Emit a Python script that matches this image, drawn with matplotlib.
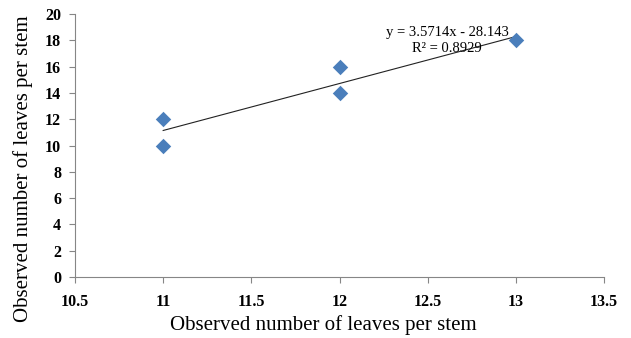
import matplotlib
matplotlib.use("Agg")
import matplotlib.pyplot as plt
import numpy as np

x_vals = [11, 11, 12, 12, 13]
y_vals = [12, 10, 16, 14, 18]
slope = 3.5714
intercept = -28.143
eq_text = "y = 3.5714x - 28.143"
r2_text = "R² = 0.8929"
xlabel = "Observed number of leaves per stem"
ylabel = "Observed number of leaves per stem"

plt.rcParams['font.family'] = ['Liberation Serif', 'DejaVu Serif']

fig = plt.figure(figsize=(6.31, 3.38), dpi=100)
ax = fig.add_axes([75/631, 1-277/338, (604-75)/631, (277-14)/338])

ax.scatter(x_vals, y_vals, marker='D', s=62, color='#4A7EBB', zorder=3, linewidths=0)
xt = np.array([min(x_vals), max(x_vals)])
ax.plot(xt, slope*xt + intercept, color='#222222', lw=0.8, zorder=2)

ax.set_xlim(10.5, 13.5)
ax.set_ylim(0, 20)
ax.set_xticks(np.arange(10.5, 13.51, 0.5))
ax.set_xticklabels(['10.5', '11', '11.5', '12', '12.5', '13', '13.5'])
ax.set_yticks(range(0, 21, 2))
for s in ['top', 'right']:
    ax.spines[s].set_visible(False)
for s in ['left', 'bottom']:
    ax.spines[s].set_color('#868686')
    ax.spines[s].set_linewidth(0.8)
ax.tick_params(axis='both', direction='out', length=4, color='#868686', width=0.8,
               labelsize=11.5)
ax.tick_params(axis='x', pad=8)
ax.tick_params(axis='y', pad=6)
for lab in ax.get_xticklabels() + ax.get_yticklabels():
    lab.set_fontweight('bold')
ax.set_xlabel(xlabel, fontsize=15)
ax.xaxis.set_label_coords(0.47, -0.145)
ax.set_ylabel(ylabel, fontsize=15)
ax.yaxis.set_label_coords(-0.08, 0.41)

ax.text(12.61, 18.63, eq_text, fontsize=10.5, ha='center', va='center')
ax.text(12.61, 17.41, r2_text, fontsize=10.5, ha='center', va='center')

fig.savefig("out.png", dpi=100)
